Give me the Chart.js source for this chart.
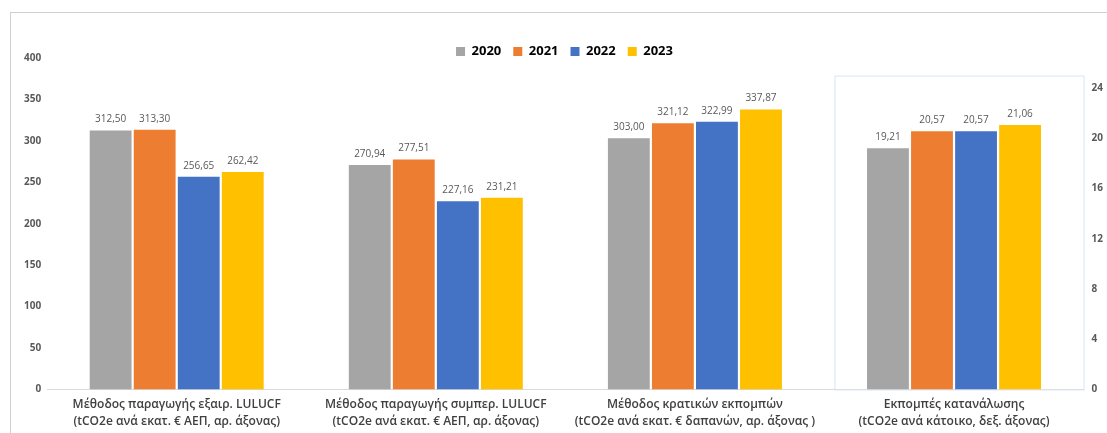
<!DOCTYPE html>
<html>
<head>
<meta charset="utf-8">
<script src="https://cdn.jsdelivr.net/npm/chart.js@4/dist/chart.umd.min.js"></script>
<style>
  html, body { margin: 0; padding: 0; background: #fff; }
  #frame { position: absolute; left: 10px; top: 12px; width: 1200px; height: 500px;
           border-top: 1px solid #d0d0d0; border-left: 1px solid #d0d0d0; }
  #wrap { position: absolute; left: 0; top: 0; width: 1107px; height: 433px; }
</style>
</head>
<body>
<div id="frame"></div>
<div id="wrap"><canvas id="grafico"></canvas></div>
<script>
// Κατηγορίες (δύο γραμμές ανά ετικέτα)
const categorias = [
  ["Μέθοδος παραγωγής εξαιρ. LULUCF", "(tCO2e ανά εκατ. € ΑΕΠ, αρ. άξονας)"],
  ["Μέθοδος παραγωγής συμπερ. LULUCF", "(tCO2e ανά εκατ. € ΑΕΠ, αρ. άξονας)"],
  ["Μέθοδος κρατικών εκπομπών", "(tCO2e ανά εκατ. € δαπανών, αρ. άξονας )"],
  ["Εκπομπές κατανάλωσης", "(tCO2e ανά κάτοικο, δεξ. άξονας)"]
];
const anos = ["2020", "2021", "2022", "2023"];
const cores = ["#a5a5a5", "#ed7d31", "#4472c4", "#ffc000"];

// Αριστερός άξονας (πρώτες τρεις κατηγορίες)
const valores2020 = [312.50, 270.94, 303.00];
const valores2021 = [313.30, 277.51, 321.12];
const valores2022 = [256.65, 227.16, 322.99];
const valores2023 = [262.42, 231.21, 337.87];
// Δεξιός άξονας (τέταρτη κατηγορία)
const consumo = [19.21, 20.57, 20.57, 21.06];

const ticksEsq = { min: 0, max: 400, step: 50 };
const ticksDir = { min: 0, max: 24, step: 4 };

const esquerda = [valores2020, valores2021, valores2022, valores2023];

const datasets = [];
anos.forEach((ano, i) => {
  datasets.push({
    label: ano,
    data: [...esquerda[i], null],
    backgroundColor: cores[i],
    yAxisID: "y"
  });
});
anos.forEach((ano, i) => {
  datasets.push({
    label: ano + "_dir",
    data: [null, null, null, consumo[i]],
    backgroundColor: cores[i],
    yAxisID: "y1"
  });
});

function fmt(v) {
  return v.toFixed(2).replace(".", ",");
}

// Rótulos de valor acima das barras
const rotulos = {
  id: "rotulos",
  afterDatasetsDraw(chart) {
    const ctx = chart.ctx;
    ctx.save();
    ctx.font = "10px 'Open Sans'";
    ctx.fillStyle = "#595959";
    ctx.textAlign = "center";
    ctx.textBaseline = "bottom";
    chart.data.datasets.forEach((ds, i) => {
      const meta = chart.getDatasetMeta(i);
      meta.data.forEach((bar, j) => {
        const v = ds.data[j];
        if (v === null || v === undefined) return;
        ctx.fillText(fmt(v), bar.x, bar.y - 6);
      });
    });
    ctx.restore();
  }
};

// Moldura em volta da categoria do eixo direito
const moldura = {
  id: "moldura",
  beforeDatasetsDraw(chart) {
    const x = chart.scales.x;
    const y1 = chart.scales.y1;
    const ctx = chart.ctx;
    const esq = (x.getPixelForValue(2) + x.getPixelForValue(3)) / 2 + 10;
    const dir = chart.chartArea.right;
    const topo = y1.getPixelForValue(25);
    const base = y1.getPixelForValue(0);
    ctx.save();
    ctx.strokeStyle = "#dae3f3";
    ctx.lineWidth = 1;
    ctx.strokeRect(esq + 0.5, topo + 0.5, dir - esq, base - topo);
    ctx.restore();
  }
};

const ctx = document.getElementById("grafico").getContext("2d");
const grafico = new Chart(ctx, {
  type: "bar",
  data: { labels: categorias, datasets: datasets },
  plugins: [moldura, rotulos],
  options: {
    responsive: true,
    maintainAspectRatio: false,
    animation: false,
    skipNull: true,
    categoryPercentage: 0.68,
    barPercentage: 0.95,
    layout: { padding: { left: 18, right: -4, top: 33, bottom: -4 } },
    plugins: {
      legend: {
        position: "top",
        maxHeight: 25,
        labels: {
          filter: (item) => !item.text.endsWith("_dir"),
          boxWidth: 9,
          boxHeight: 9,
          padding: 12,
          color: "#000",
          font: { family: "'Open Sans'", size: 13, weight: "bold" }
        }
      },
      tooltip: { enabled: false }
    },
    scales: {
      x: {
        grid: { display: false, drawTicks: false },
        border: { display: true, color: "#d9d9d9" },
        ticks: {
          color: "#404040",
          padding: 7,
          maxRotation: 0,
          font: { family: "'Open Sans'", size: 12, weight: "600", lineHeight: 1.4 }
        }
      },
      y: {
        position: "left",
        min: ticksEsq.min,
        max: ticksEsq.max,
        grid: { display: false, drawTicks: false },
        border: { display: false },
        ticks: {
          stepSize: ticksEsq.step,
          color: "#595959",
          padding: 6,
          font: { family: "'Open Sans'", size: 10, weight: "bold" }
        }
      },
      y1: {
        position: "right",
        min: ticksDir.min,
        max: 26.4,
        grid: { display: false, drawTicks: false },
        border: { display: false },
        afterBuildTicks: (scale) => {
          scale.ticks = scale.ticks.filter(t => t.value <= ticksDir.max && t.value % ticksDir.step === 0);
        },
        ticks: {
          stepSize: ticksDir.step,
          color: "#595959",
          padding: 8,
          font: { family: "'Open Sans'", size: 10, weight: "bold" }
        }
      }
    }
  }
});
</script>
</body>
</html>
